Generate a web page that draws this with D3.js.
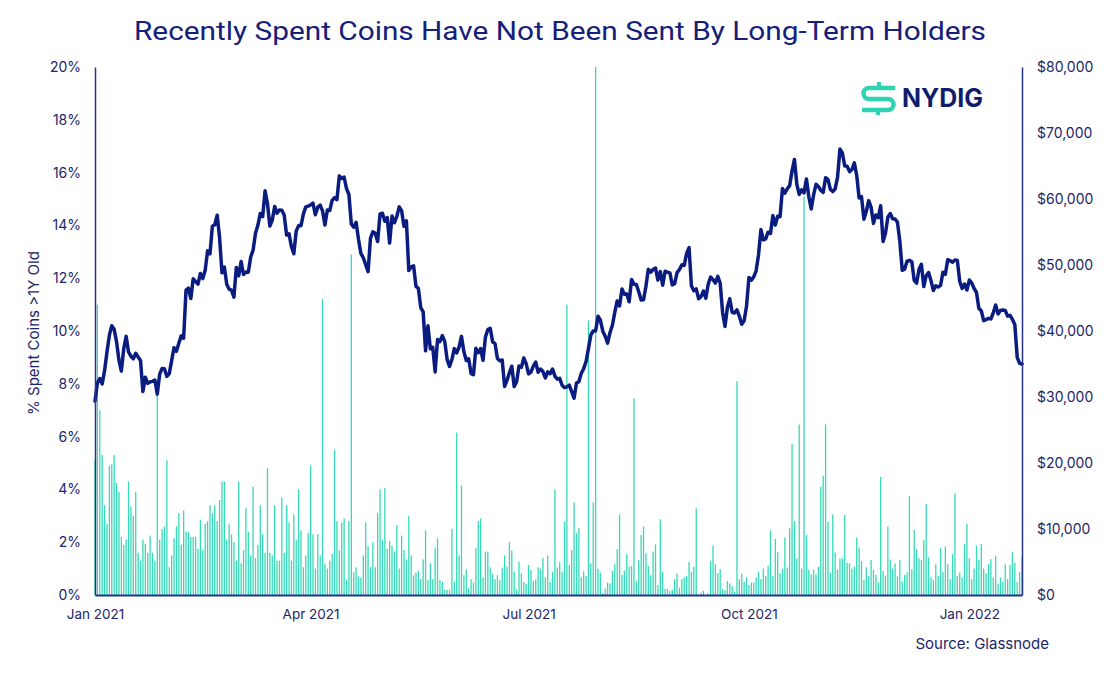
<!DOCTYPE html>
<html>
<head>
<meta charset="utf-8">
<script src="https://cdn.jsdelivr.net/npm/d3@7"></script>
<style>
  html, body { margin: 0; padding: 0; background: #ffffff; }
  svg { display: block; font-family: Inter, Roboto, "Liberation Sans", Arial, sans-serif; }
</style>
</head>
<body>
<svg id="chart" width="1120" height="679"></svg>
<script>
// ---------------- DATA ----------------
const startDate = "2021-01-01"; // first daily observation; one value per day

// % of spent coins older than 1 year (left axis, daily bars)
const pctSpent = [
  5.1, 11.0, 7.0, 5.3, 3.4, 2.7, 4.9, 4.95, 5.3, 4.25, 3.9, 2.2, 1.9, 2.1, 4.3, 3.35, 3.0, 3.9, 1.6, 1.3,
  2.1, 1.95, 1.6, 2.25, 1.6, 1.3, 7.9, 2.1, 2.5, 2.6, 5.1, 1.05, 1.5, 2.15, 2.6, 3.1, 1.9, 3.2, 2.4, 2.4,
  2.2, 2.2, 2.2, 1.75, 2.85, 1.7, 2.7, 2.8, 3.4, 3.1, 3.4, 2.8, 3.6, 4.3, 4.3, 2.1, 2.7, 2.3, 2.0, 1.3,
  4.3, 1.2, 1.7, 3.3, 2.4, 1.5, 4.1, 1.4, 1.9, 3.4, 2.3, 1.6, 4.8, 1.6, 1.5, 3.4, 1.3, 1.3, 3.7, 1.6,
  3.4, 2.75, 1.3, 3.05, 2.1, 4.0, 2.45, 1.05, 1.5, 2.35, 4.9, 2.3, 1.0, 2.3, 1.5, 11.2, 1.2, 1.0, 1.3, 1.55,
  5.5, 2.8, 1.7, 2.75, 2.9, 0.57, 2.8, 12.9, 0.86, 1.05, 0.7, 0.65, 1.5, 2.75, 1.85, 1.05, 2.0, 1.05, 3.1, 4.0,
  2.1, 4.05, 1.75, 2.05, 1.85, 1.65, 2.65, 1.0, 2.25, 1.7, 1.35, 3.0, 1.5, 0.75, 0.85, 0.92, 0.6, 1.35, 2.45, 0.57,
  1.2, 0.6, 1.8, 2.15, 0.57, 0.5, 0.2, 0.2, 0.2, 2.5, 0.5, 6.15, 1.5, 4.15, 0.75, 0.97, 0.25, 0.6, 0.47, 1.77,
  2.8, 2.9, 0.67, 1.64, 1.64, 1.05, 0.8, 0.6, 0.75, 0.57, 1.04, 1.5, 1.07, 2.0, 1.68, 0.88, 0.2, 1.26, 0.82, 0.5,
  0.42, 1.14, 0.95, 0.54, 0.6, 1.05, 1.0, 1.4, 0.67, 1.5, 0.5, 0.88, 4.0, 1.04, 1.24, 0.88, 2.78, 11.0, 1.14, 1.7,
  3.5, 2.34, 2.53, 0.67, 0.9, 0.72, 10.4, 1.2, 3.5, 20.0, 1.0, 0.85, 0.06, 0.25, 0.47, 0.44, 0.92, 1.16, 1.74, 3.05,
  0.76, 0.92, 1.55, 1.07, 1.1, 7.45, 0.53, 1.33, 2.27, 2.6, 1.58, 1.1, 0.75, 1.64, 1.92, 0.38, 2.87, 0.88, 0.23, 0.23,
  0.15, 0.19, 0.6, 0.82, 0.28, 0.6, 0.67, 0.72, 1.25, 0.88, 1.07, 3.28, 0.0, 0.09, 0.16, 0.0, 0.06, 1.29, 1.87, 1.16,
  0.82, 0.98, 0.23, 0.19, 0.53, 0.44, 0.34, 0.13, 8.1, 0.6, 0.82, 0.5, 0.67, 0.38, 0.47, 0.47, 0.66, 0.88, 0.6, 1.0,
  0.72, 1.1, 2.44, 0.72, 2.12, 1.62, 0.82, 1.0, 2.18, 1.04, 2.53, 5.72, 2.8, 1.39, 6.46, 1.0, 15.1, 2.27, 0.95, 0.78,
  0.97, 0.78, 1.07, 4.1, 4.52, 6.46, 2.78, 0.85, 3.05, 1.62, 0.97, 1.39, 1.39, 3.03, 1.22, 1.2, 1.0, 1.07, 2.17, 1.8,
  1.29, 0.57, 1.05, 0.72, 1.33, 0.95, 0.76, 0.48, 4.48, 0.91, 0.73, 2.6, 1.35, 1.0, 1.2, 0.7, 1.33, 0.5, 0.76, 0.85,
  3.75, 0.97, 2.46, 1.73, 1.39, 1.33, 2.08, 3.45, 1.43, 0.67, 0.57, 1.16, 0.72, 1.77, 0.86, 1.83, 1.16, 0.6, 1.55, 3.85,
  0.72, 0.85, 0.66, 1.92, 2.69, 1.39, 0.6, 1.0, 1.87, 1.33, 1.93, 1.0, 0.82, 1.17, 1.36, 0.67, 1.48, 0.42, 0.66, 0.5,
  1.16, 0.6, 1.14, 1.62, 1.22, 0.5, 0.88, 1.45
];

// BTC price in USD (right axis, daily line)
const btcPrice = [
  // Jan 2021
  29374, 32127, 32782, 31971, 33992, 36824, 39371, 40797, 40254, 38356, 35566, 33923, 37316, 39187, 36825, 36178,
  35792, 36630, 36070, 35548, 30826, 33006, 32068, 32289, 32366, 32569, 30432, 33467, 34316, 34269, 33114,
  // Feb
  33538, 35510, 37473, 36927, 38144, 39266, 38903, 46196, 46481, 44918, 47910, 47505, 47106, 48717, 47945, 49200,
  52149, 51679, 55888, 56100, 57540, 54207, 48825, 49705, 47093, 46339, 46188, 45137,
  // Mar
  49631, 48378, 50538, 48561, 48927, 48912, 51206, 52246, 54824, 56008, 57805, 57332, 61243, 59302, 55907, 56804,
  58870, 57858, 58346, 58313, 57523, 54529, 54738, 52774, 51704, 55137, 55974, 55947, 57750, 58800, 58918,
  // Apr
  59095, 59384, 57603, 58759, 59057, 58192, 56048, 58323, 58245, 59793, 60204, 59893, 63503, 63109, 63315, 61572,
  60683, 56216, 55724, 56473, 53906, 51762, 51093, 50050, 49004, 54021, 55033, 54824, 53555, 57750,
  // May
  57828, 56631, 57200, 53333, 57424, 56397, 57356, 58803, 58232, 55860, 56705, 49150, 49716, 49880, 46760, 46456,
  43538, 42909, 37002, 40782, 37304, 37536, 33800, 38706, 38403, 39294, 38437, 35698, 34616, 35678, 37333,
  // Jun
  36684, 37575, 39187, 36851, 35520, 35796, 33552, 33380, 37388, 36702, 37334, 35553, 39097, 40219, 40406, 38348,
  38092, 35820, 35484, 35600, 31608, 32509, 33678, 34663, 31584, 32283, 34700, 34494, 35911, 35045,
  // Jul
  33504, 33786, 34669, 35287, 33746, 34235, 33855, 32877, 33798, 33520, 34240, 33155, 32702, 32822, 31780, 31421,
  31533, 31796, 30817, 29807, 32110, 32314, 33581, 34292, 35350, 37337, 39406, 39995, 40008, 42236, 41626,
  // Aug
  39974, 39201, 38152, 39747, 40870, 42816, 44555, 43798, 46365, 45585, 45593, 44428, 47794, 47097, 47047, 45937,
  44686, 44742, 46763, 49340, 48905, 49322, 49546, 47707, 48993, 46942, 49058, 48903, 48812, 46992, 47167,
  // Sep
  48847, 49327, 50026, 49944, 51753, 52633, 46812, 46091, 46391, 44884, 45201, 46063, 44963, 47092, 48176, 47783,
  47268, 48278, 47261, 42844, 40694, 43574, 44896, 42840, 42716, 43209, 42236, 41035, 41564, 43790,
  // Oct
  48116, 47711, 48199, 49112, 51514, 55361, 53805, 53967, 54968, 54771, 57484, 56041, 57401, 57321, 61593, 60892,
  61553, 62026, 64262, 65993, 62210, 60693, 61393, 60931, 63039, 60363, 58483, 60622, 62228, 61889, 61319,
  // Nov
  61005, 63227, 62971, 61453, 61126, 61528, 63327, 67567, 66972, 64996, 64950, 64155, 64469, 65467, 63557, 60162,
  60369, 56943, 58120, 59760, 58731, 56307, 57569, 57172, 58966, 53570, 54816, 57249, 57807, 57000,
  // Dec
  56966, 56500, 53600, 49200, 49363, 50582, 50700, 50505, 47672, 47243, 49363, 50098, 46737, 48380, 48865, 47632,
  46131, 46834, 46681, 46915, 48897, 48588, 50809, 50640, 50402, 50775, 50702, 47543, 46464, 47120, 46216,
  // Jan 2022
  47722, 47287, 46446, 45833, 43425, 43082, 41572, 41734, 41912, 41821, 42736, 43949, 42591, 43099, 43177, 43113,
  42250, 42375, 41744, 41000, 36000, 35100, 35000
];

const leftTicks = [0, 2, 4, 6, 8, 10, 12, 14, 16, 18, 20];
const rightTicks = [0, 10000, 20000, 30000, 40000, 50000, 60000, 70000, 80000];
const xTickDates = ["2021-01-01", "2021-04-01", "2021-07-01", "2021-10-01", "2022-01-01"];

const titleText = "Recently Spent Coins Have Not Been Sent By Long-Term Holders";
const leftAxisTitle = "% Spent Coins >1Y Old";
const sourceText = "Source: Glassnode";
const logoText = "NYDIG";

// ---------------- DRAW ----------------
const navy = "#0b1c80";
const axisNavy = "#26338a";
const textNavy = "#1b2568";
const mint = "#36dab7";
const FONT = "Inter, Roboto, 'Liberation Sans', Arial, sans-serif";

const svg = d3.select("#chart");
const M = { left: 95, right: 1022, top: 67, bottom: 595 };

const parse = d3.utcParse("%Y-%m-%d");
const t0 = parse(startDate);
const dates = pctSpent.map((_, i) => d3.utcDay.offset(t0, i));
const tEnd = dates[dates.length - 1];

const x = d3.scaleUtc().domain([t0, tEnd]).range([M.left, M.right]);
const yL = d3.scaleLinear().domain([0, 20]).range([M.bottom, M.top]);
const yR = d3.scaleLinear().domain([0, 80000]).range([M.bottom, M.top]);

// bars
svg.append("g")
  .selectAll("rect")
  .data(pctSpent)
  .join("rect")
  .attr("x", (d, i) => x(dates[i]) - 0.65)
  .attr("width", 1.3)
  .attr("y", d => yL(d))
  .attr("height", d => M.bottom - yL(d))
  .attr("fill", mint);

// price line
const priceData = btcPrice.map((p, i) => ({ t: d3.utcDay.offset(t0, i), p }));
svg.append("path")
  .datum(priceData)
  .attr("fill", "none")
  .attr("stroke", navy)
  .attr("stroke-width", 3.5)
  .attr("stroke-linejoin", "round")
  .attr("stroke-linecap", "round")
  .attr("d", d3.line().x(d => x(d.t)).y(d => yR(d.p)));

// axes
function styleAxis(g, w, size) {
  g.select(".domain").attr("stroke", axisNavy).attr("stroke-width", w);
  g.selectAll("text").attr("fill", textNavy).style("font-size", size + "px")
    .style("font-family", FONT);
}

const gL = svg.append("g").attr("transform", `translate(${M.left},0)`)
  .call(d3.axisLeft(yL).tickValues(leftTicks).tickFormat(d => d + "%").tickSize(0).tickPadding(14));
styleAxis(gL, 1.5, 14);

const gR = svg.append("g").attr("transform", `translate(${M.right},0)`)
  .call(d3.axisRight(yR).tickValues(rightTicks).tickFormat(d => "$" + d3.format(",")(d)).tickSize(0).tickPadding(15));
styleAxis(gR, 1.5, 14);

const gB = svg.append("g").attr("transform", `translate(0,${M.bottom})`)
  .call(d3.axisBottom(x).tickValues(xTickDates.map(parse)).tickFormat(d3.utcFormat("%b %Y")).tickSize(0).tickPadding(14));
styleAxis(gB, 2.2, 13.5);

// title
svg.append("text")
  .attr("x", 560).attr("y", 40)
  .attr("text-anchor", "middle")
  .attr("fill", "#14207a")
  .style("font-size", "26px")
  .style("font-family", "Roboto, 'Liberation Sans', Arial, sans-serif")
  .attr("textLength", 852)
  .attr("lengthAdjust", "spacingAndGlyphs")
  .text(titleText);

// left axis title
svg.append("text")
  .attr("transform", "translate(39,333) rotate(-90)")
  .attr("text-anchor", "middle")
  .attr("fill", textNavy)
  .style("font-size", "15px")
  .text(leftAxisTitle);

// source
svg.append("text")
  .attr("x", 1049).attr("y", 649)
  .attr("text-anchor", "end")
  .attr("fill", textNavy)
  .style("font-size", "15px")
  .text(sourceText);

// logo
const logo = svg.append("g");
logo.append("path")
  .attr("d", "M895,88 H869 A5.5,5.5 0 0 0 869,99 H888 A5.5,5.5 0 0 1 888,110 H862")
  .attr("fill", "none").attr("stroke", "#2fd3b2").attr("stroke-width", 4.5);
logo.append("path")
  .attr("d", "M879,82 V88 M878,110 V115")
  .attr("fill", "none").attr("stroke", "#2fd3b2").attr("stroke-width", 4);
logo.append("text")
  .attr("x", 902).attr("y", 107)
  .attr("fill", "#0f1d6b")
  .style("font-size", "25px").style("font-weight", "700")
  .attr("textLength", 81).attr("lengthAdjust", "spacingAndGlyphs")
  .text(logoText);
</script>
</body>
</html>
